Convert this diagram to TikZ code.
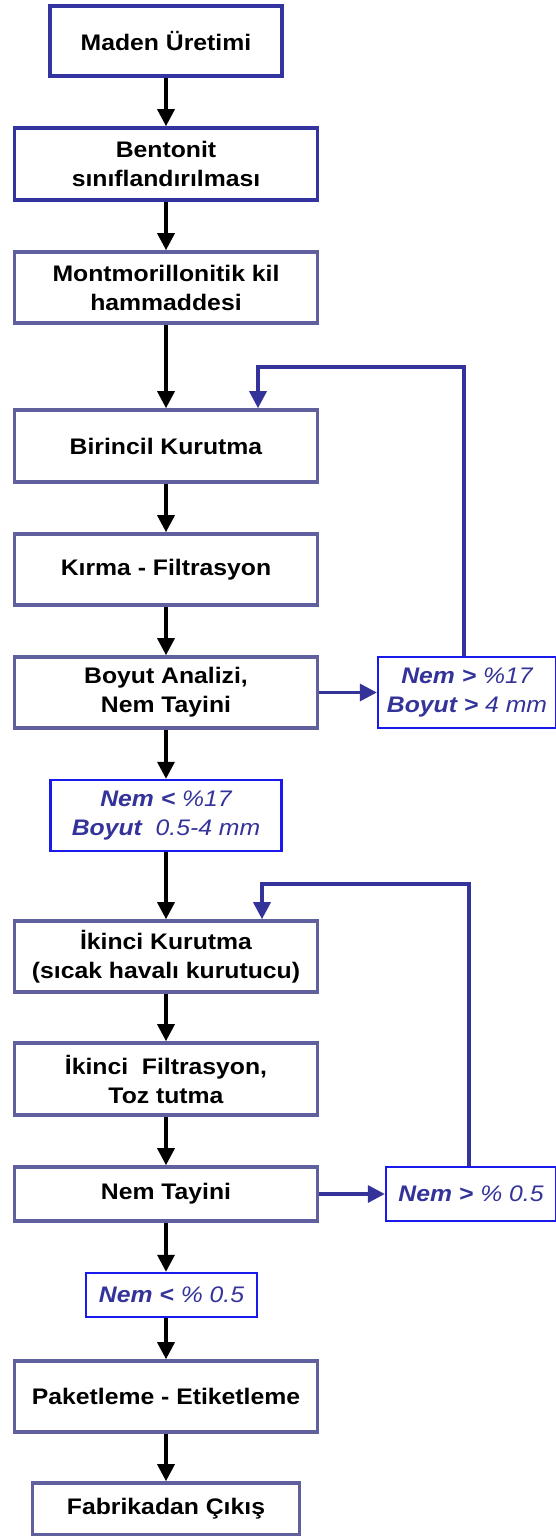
\documentclass[tikz,border=0pt]{standalone}
\usepackage{fontspec}
\setmainfont{Liberation Sans}[FakeStretch=1.1]
\usetikzlibrary{arrows.meta}
\definecolor{boxline}{RGB}{96,96,158}
\definecolor{topline}{RGB}{52,52,160}
\definecolor{condline}{RGB}{25,25,235}
\definecolor{condtext}{RGB}{51,51,153}

\begin{document}
\begin{tikzpicture}[x=1pt,y=-1pt,
   proc/.style={draw=boxline, line width=3.6pt, fill=white, align=center,
      minimum width=303pt, minimum height=71pt, inner sep=0pt,
      font=\bfseries\fontsize{22.5}{29}\selectfont},
   cond/.style={draw=condline, line width=2.4pt, fill=white, align=center,
      inner sep=0pt, text=condtext,
      font=\itshape\fontsize{22.5}{29}\selectfont},
   flow/.style={line width=3.4pt, -{Triangle[length=17pt,width=17pt]}},
   back/.style={flow, line width=3.4pt, color=condtext}]
   \useasboundingbox (0,0) rectangle (556,1536);

   % main column
   \node[proc, draw=topline, minimum width=232pt, minimum height=70pt] (maden) at (166,41) {Maden Üretimi};
   \node[proc, draw=topline, minimum height=72pt] (bent) at (166,164) {Bentonit\\ sınıflandırılması};
   \node[proc] (kil) at (166,287.5) {Montmorillonitik kil\\ hammaddesi};
   \node[proc, minimum height=72pt] (kuru1) at (166,446) {Birincil Kurutma};
   \node[proc] (kirma) at (166,569.5) {Kırma - Filtrasyon};
   \node[proc] (boyut) at (166,692.5) {Boyut Analizi,\\ Nem Tayini};
   \node[cond, minimum width=231pt, minimum height=71pt] (nemA) at (166,815.5)
      {\textbf{Nem <} \%17\\ \textbf{Boyut}\ \ 0.5-4 mm};
   \node[proc] (kuru2) at (166,956.5) {İkinci Kurutma\\ (sıcak havalı kurutucu)};
   \node[proc, minimum height=72pt] (filt2) at (166,1079) {İkinci\ \ Filtrasyon,\\ Toz tutma};
   \node[proc, minimum height=54pt] (nem) at (166,1194) {Nem Tayini};
   \node[cond, minimum width=171pt, minimum height=44pt] (nemB) at (171.5,1295) {\textbf{Nem <} \% 0.5};
   \node[proc] (paket) at (166,1396.5) {Paketleme - Etiketleme};
   \node[proc, minimum width=267pt, minimum height=52pt] (cikis) at (166,1509) {Fabrikadan Çıkış};

   % right side checks
   \node[cond, minimum width=178pt, minimum height=71pt] (nemC) at (467,692.5)
      {\textbf{Nem >} \%17\\ \textbf{Boyut >} 4 mm};
   \node[cond, minimum width=170pt, minimum height=54pt] (nemD) at (471,1194) {\textbf{Nem >} \% 0.5};

   \coordinate (topA) at (258,367);
   \coordinate (topB) at (262,884);

   \draw[flow] (maden) -- (bent);
   \draw[flow] (bent) -- (kil);
   \draw[flow] (kil) -- (kuru1);
   \draw[flow] (kuru1) -- (kirma);
   \draw[flow] (kirma) -- (boyut);
   \draw[flow] (boyut) -- (nemA);
   \draw[flow] (nemA) -- (kuru2);
   \draw[flow] (kuru2) -- (filt2);
   \draw[flow] (filt2) -- (nem);
   \draw[flow] (nem.south) -- (nem.south |- nemB.north);
   \draw[flow] (nem.south |- nemB.south) -- (paket.north);
   \draw[flow] (paket) -- (cikis);

   \draw[back] (boyut) -- (nemC);
   \draw[back] ([xshift=-3pt]nemC.north) |- (topA) -- (topA |- kuru1.north);
   \draw[back] (nem) -- (nemD);
   \draw[back] ([xshift=-2pt]nemD.north) |- (topB) -- (topB |- kuru2.north);
\end{tikzpicture}
\end{document}
